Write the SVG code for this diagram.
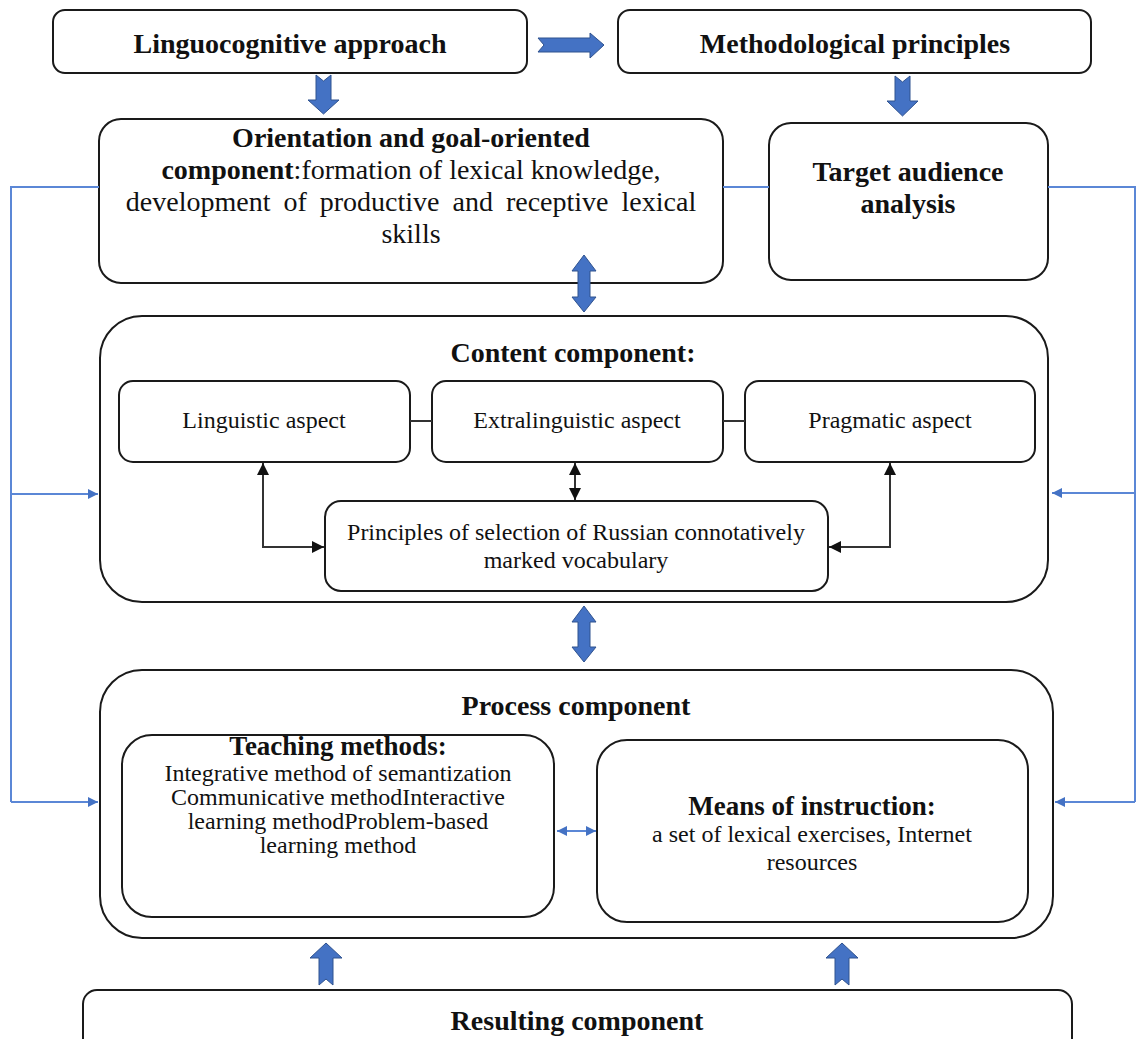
<svg xmlns="http://www.w3.org/2000/svg" width="1136" height="1039" viewBox="0 0 1136 1039">
<style>
.box{fill:#fff;stroke:#1a1a1a;stroke-width:2}
.t{font-family:"Liberation Serif","Times New Roman",serif;fill:#111;text-anchor:middle}
.b{font-weight:bold}
.blk{fill:#4472C4;stroke:#2F528F;stroke-width:1}
.bl{fill:none;stroke:#5B87D6;stroke-width:2}
.k{fill:none;stroke:#333;stroke-width:2}
</style>
<defs>
<marker id="ab" viewBox="0 0 10 10" refX="10" refY="5" markerWidth="5" markerHeight="5" orient="auto-start-reverse"><path d="M0,0L10,5L0,10z" fill="#4472C4"/></marker>
<marker id="ak" viewBox="0 0 10 10" refX="10" refY="5" markerWidth="6" markerHeight="6" orient="auto-start-reverse"><path d="M0,0L10,5L0,10z" fill="#111"/></marker>
</defs>
<rect width="1136" height="1039" fill="#fff"/>

<g id="linguocognitive">
<rect class="box" x="53" y="10" width="474" height="63" rx="12"/>
<text class="t b" x="290" y="53" font-size="28">Linguocognitive approach</text>
</g>
<g id="methodological">
<rect class="box" x="618" y="10" width="473" height="63" rx="12"/>
<text class="t b" x="855" y="53" font-size="28">Methodological principles</text>
</g>
<g id="orientation">
<rect class="box" x="99" y="119" width="624" height="164" rx="22"/>
<text class="t" font-size="28"><tspan class="b" x="411" y="147">Orientation and goal-oriented</tspan><tspan x="411" y="179"><tspan class="b">component</tspan>:formation of lexical knowledge,</tspan><tspan x="411" y="211" word-spacing="6">development of productive and receptive lexical</tspan><tspan x="411" y="243">skills</tspan></text>
</g>
<g id="target">
<rect class="box" x="769" y="123" width="279" height="157" rx="22"/>
<text class="t b" font-size="28"><tspan x="908" y="181">Target audience</tspan><tspan x="908" y="213">analysis</tspan></text>
</g>
<g id="content">
<rect class="box" x="100" y="316" width="948" height="286" rx="42"/>
<text class="t b" x="573" y="362" font-size="28">Content component:</text>
</g>
<g id="linguistic">
<rect class="box" x="119" y="381" width="291" height="81" rx="14"/>
<text class="t" x="264" y="428" font-size="24">Linguistic aspect</text>
</g>
<g id="extralinguistic">
<rect class="box" x="432" y="381" width="291" height="81" rx="14"/>
<text class="t" x="577" y="428" font-size="24">Extralinguistic aspect</text>
</g>
<g id="pragmatic">
<rect class="box" x="745" y="381" width="290" height="81" rx="14"/>
<text class="t" x="890" y="428" font-size="24">Pragmatic aspect</text>
</g>
<g id="principles">
<rect class="box" x="325" y="501" width="503" height="90" rx="16"/>
<text class="t" font-size="24"><tspan x="576" y="540">Principles of selection of Russian connotatively</tspan><tspan x="576" y="568">marked vocabulary</tspan></text>
</g>
<g id="process">
<rect class="box" x="100" y="670" width="953" height="268" rx="42"/>
<text class="t b" x="576" y="715" font-size="28">Process component</text>
</g>
<g id="teaching">
<rect class="box" x="122" y="735" width="432" height="182" rx="30"/>
<text class="t" font-size="24"><tspan class="b" x="338" y="755" font-size="27">Teaching methods:</tspan><tspan x="338" y="781">Integrative method of semantization</tspan><tspan x="338" y="805">Communicative methodInteractive</tspan><tspan x="338" y="829">learning methodProblem-based</tspan><tspan x="338" y="853">learning method</tspan></text>
</g>
<g id="means">
<rect class="box" x="597" y="740" width="431" height="182" rx="30"/>
<text class="t" font-size="24"><tspan class="b" x="812" y="815" font-size="27">Means of instruction:</tspan><tspan x="812" y="842">a set of lexical exercises, Internet</tspan><tspan x="812" y="870">resources</tspan></text>
</g>
<g id="resulting">
<rect class="box" x="83" y="990" width="989" height="70" rx="14"/>
<text class="t b" x="577" y="1030" font-size="28">Resulting component</text>
</g>

<g id="connectors">
<polygon class="blk" points="538,38 590,38 590,33 604,45 590,58 590,52 538,52 544,45"/>
<polygon class="blk" points="316,75 323.5,81 331,75 331,100 339,100 323.5,114 308,100 316,100"/>
<polygon class="blk" points="895,76 902.5,82 910,76 910,101 918,101 902.5,116 887,101 895,101"/>
<polygon class="blk" points="578,271 572,271 584,255 596,271 590,271 590,297 596,297 584,312 572,297 578,297"/>
<polygon class="blk" points="578,622 572,622 584,606 596,622 590,622 590,647 596,647 584,662 572,647 578,647"/>
<polygon class="blk" points="326,943 342,958 333,958 333,985 326,979 319,985 319,958 310,958"/>
<polygon class="blk" points="842,943 858,958 849,958 849,985 842,979 835,985 835,958 826,958"/>
<path class="bl" d="M99,187H11V802"/>
<path class="bl" d="M11,494H98" marker-end="url(#ab)"/>
<path class="bl" d="M11,802H98" marker-end="url(#ab)"/>
<path class="bl" d="M723,187H769"/>
<path class="bl" d="M1048,187H1135V802"/>
<path class="bl" d="M1135,493H1052" marker-end="url(#ab)"/>
<path class="bl" d="M1135,802H1055" marker-end="url(#ab)"/>
<path class="bl" d="M557,831H596" marker-start="url(#ab)" marker-end="url(#ab)"/>
<path class="k" d="M410,421H432M723,421H745"/>
<path class="k" d="M263,463V547H324" marker-start="url(#ak)" marker-end="url(#ak)"/>
<path class="k" d="M575,463V500" marker-start="url(#ak)" marker-end="url(#ak)"/>
<path class="k" d="M890,463V547H829" marker-start="url(#ak)" marker-end="url(#ak)"/>
</g>
</svg>
